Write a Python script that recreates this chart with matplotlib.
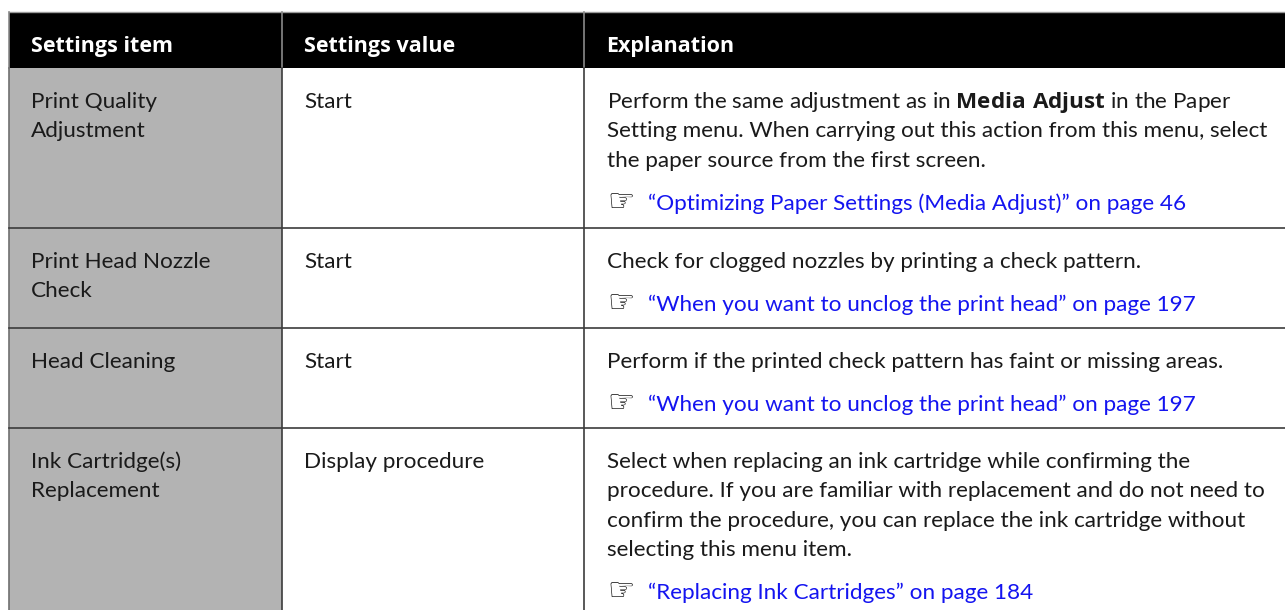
import matplotlib
matplotlib.use("Agg")
import matplotlib.pyplot as plt
from matplotlib.patches import Rectangle

plt.rcParams['font.family'] = ['Lato', 'DejaVu Sans']
plt.rcParams['mathtext.fontset'] = 'custom'
plt.rcParams['mathtext.rm'] = 'Lato'
plt.rcParams['mathtext.bf'] = 'Open Sans:bold'

# table content
headers = ["Settings item", "Settings value", "Explanation"]
items = [["Print Quality", "Adjustment"],
         ["Print Head Nozzle", "Check"],
         ["Head Cleaning"],
         ["Ink Cartridge(s)", "Replacement"]]
values = ["Start", "Start", "Start", "Display procedure"]
explanations = [
    [r"Perform the same adjustment as in $\mathbf{Media\ Adjust}$ in the Paper",
     "Setting menu. When carrying out this action from this menu, select",
     "the paper source from the first screen."],
    ["Check for clogged nozzles by printing a check pattern."],
    ["Perform if the printed check pattern has faint or missing areas."],
    ["Select when replacing an ink cartridge while confirming the",
     "procedure. If you are familiar with replacement and do not need to",
     "confirm the procedure, you can replace the ink cartridge without",
     "selecting this menu item."],
]
links = ['\u201cOptimizing Paper Settings (Media Adjust)\u201d on page 46',
         '\u201cWhen you want to unclog the print head\u201d on page 197',
         '\u201cWhen you want to unclog the print head\u201d on page 197',
         '\u201cReplacing Ink Cartridges\u201d on page 184']

# layout in pixels
col_x = [9, 282, 584, 1295]
row_y = [12, 68, 228, 328, 428, 625]
pad = 22
fs = 16.2
line_h = 29.3

fig = plt.figure(figsize=(12.85, 6.1), dpi=100)
ax = fig.add_axes([0, 0, 1, 1])
ax.set_xlim(0, 1285)
ax.set_ylim(610, 0)
ax.axis('off')

# header band
ax.add_patch(Rectangle((col_x[0], row_y[0]), col_x[-1] - col_x[0], row_y[1] - row_y[0],
                       facecolor='black', edgecolor='none'))
# grey first column
ax.add_patch(Rectangle((col_x[0], row_y[1]), col_x[1] - col_x[0], row_y[-1] - row_y[1],
                       facecolor='#b3b3b3', edgecolor='none'))

ax.plot([col_x[0], col_x[-1]], [row_y[0], row_y[0]], color='#9a9a9a', lw=1)
for x in col_x[:-1]:
    ax.plot([x, x], [row_y[0], row_y[1]], color='#8a8a8a', lw=1.2)
ax.plot([col_x[0], col_x[0]], [row_y[1], row_y[-1]], color='#707070', lw=1.2)
for x in col_x[1:-1]:
    ax.plot([x, x], [row_y[1], row_y[-1]], color='#3c3c3c', lw=1.2)
for y in row_y[2:-1]:
    ax.plot([col_x[0], col_x[-1]], [y, y], color='#3c3c3c', lw=1.2)

for j, h in enumerate(headers):
    ax.text(col_x[j] + pad, 52, h, color='white', fontsize=15.5, fontweight='bold',
            family='Open Sans', va='baseline', ha='left')

txt_col = '#1a1a1a'
for i in range(len(items)):
    top = row_y[i + 1]
    base = top + 40
    for k, s in enumerate(items[i]):
        ax.text(col_x[0] + pad, base + k * line_h, s, color=txt_col, fontsize=fs,
                va='baseline')
    ax.text(col_x[1] + pad, base, values[i], color=txt_col, fontsize=fs, va='baseline')
    for k, s in enumerate(explanations[i]):
        ax.text(col_x[2] + pad + 1, base + k * line_h, s, color=txt_col, fontsize=fs,
                va='baseline')
    ly = base + (len(explanations[i]) - 1) * line_h + 43
    ax.text(col_x[2] + pad + 1, ly + 1, '\u261e', family='DejaVu Sans', fontsize=22,
            color='black', va='baseline')
    ax.text(col_x[2] + 64, ly, links[i], color='#1414f0', fontsize=fs, va='baseline')

fig.savefig('out.png', dpi=100)
